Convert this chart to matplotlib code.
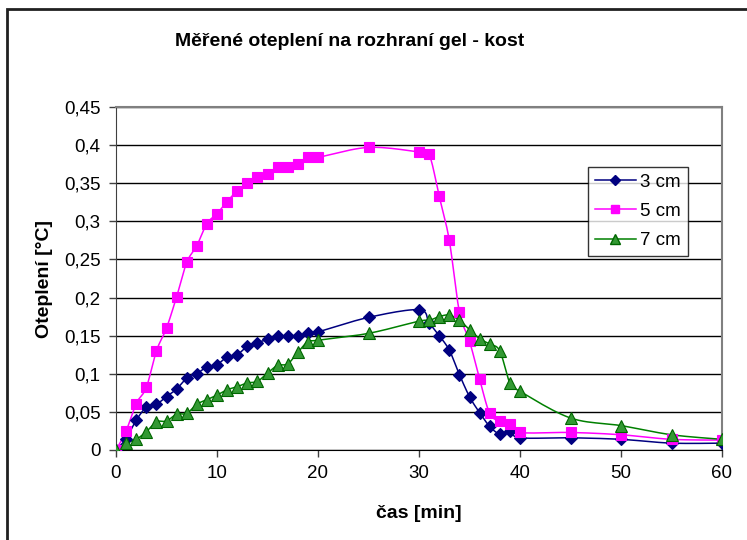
import numpy as np
import matplotlib.pyplot as plt
from matplotlib.patches import Rectangle
from matplotlib.ticker import FuncFormatter, MultipleLocator

plt.rcParams['font.family'] = ['Liberation Sans', 'DejaVu Sans']

# time [min]
t = [0, 1, 2, 3, 4, 5, 6, 7, 8, 9, 10, 11, 12, 13, 14, 15, 16, 17, 18, 19, 20,
     25, 30, 31, 32, 33, 34, 35, 36, 37, 38, 39, 40, 45, 50, 55, 60]

# temperature rise [°C] at the gel - bone interface
dt_3cm = [0, 0.015, 0.039, 0.056, 0.060, 0.070, 0.080, 0.094, 0.100, 0.109, 0.112,
          0.122, 0.125, 0.136, 0.141, 0.145, 0.149, 0.150, 0.150, 0.153, 0.155,
          0.174, 0.184, 0.167, 0.150, 0.131, 0.099, 0.070, 0.049, 0.031, 0.021,
          0.025, 0.016, 0.016, 0.014, 0.009, 0.009]
dt_5cm = [0, 0.025, 0.061, 0.082, 0.130, 0.160, 0.201, 0.246, 0.268, 0.297, 0.310,
          0.326, 0.340, 0.350, 0.358, 0.362, 0.371, 0.371, 0.375, 0.384, 0.384,
          0.397, 0.391, 0.388, 0.333, 0.275, 0.181, 0.143, 0.093, 0.048, 0.038,
          0.034, 0.023, 0.023, 0.020, 0.014, 0.013]
dt_7cm = [0, 0.009, 0.014, 0.024, 0.037, 0.038, 0.047, 0.048, 0.060, 0.066, 0.072,
          0.079, 0.083, 0.088, 0.090, 0.101, 0.111, 0.113, 0.128, 0.142, 0.144,
          0.153, 0.169, 0.170, 0.175, 0.177, 0.170, 0.158, 0.146, 0.139, 0.130,
          0.088, 0.077, 0.042, 0.032, 0.020, 0.014]

labels = ['3 cm', '5 cm', '7 cm']


def smooth(x, y, n=12):
    # Catmull-Rom through the points, like the spreadsheet's smoothed lines
    p = np.column_stack([x, y]).astype(float)
    p = np.vstack([p[0], p, p[-1]])
    out = []
    s = np.linspace(0, 1, n, endpoint=False)[:, None]
    for i in range(1, len(p) - 2):
        p0, p1, p2, p3 = p[i - 1], p[i], p[i + 1], p[i + 2]
        c = 0.5 * ((2 * p1) + (-p0 + p2) * s + (2 * p0 - 5 * p1 + 4 * p2 - p3) * s ** 2
                   + (-p0 + 3 * p1 - 3 * p2 + p3) * s ** 3)
        out.append(c)
    out.append(p[-2][None, :])
    out = np.vstack(out)
    return out[:, 0], out[:, 1]


fig = plt.figure(figsize=(7.47, 5.4), dpi=100)
W, H = 747, 540
ax = fig.add_axes([116 / W, (H - 450) / H, (722 - 116) / W, (450 - 107) / H])

styles = [
    dict(color='#000080', marker='D', mfc='#000080', mec='#000080', ms=6.5),
    dict(color='#FF00FF', marker='s', mfc='#FF00FF', mec='#FF00FF', ms=7),
    dict(color='#008000', marker='^', mfc='#339933', mec='#006600', ms=8),
]

for series, lab, st in zip([dt_3cm, dt_5cm, dt_7cm], labels, styles):
    sx, sy = smooth(t, series)
    ax.plot(sx, sy, color=st['color'], lw=1.1, zorder=3)
    ax.plot(t, series, ls='none', marker=st['marker'], mfc=st['mfc'],
            mec=st['mec'], ms=st['ms'], mew=0.8, zorder=4)
    # proxy handle for the legend
    ax.plot([], [], color=st['color'], lw=1.1, marker=st['marker'], mfc=st['mfc'],
            mec=st['mec'], ms=st['ms'] - 1, label=lab)

ax.set_xlim(0, 60)
ax.set_ylim(0, 0.45)
ax.xaxis.set_major_locator(MultipleLocator(10))
ax.yaxis.set_major_locator(MultipleLocator(0.05))
ax.yaxis.set_major_formatter(FuncFormatter(lambda v, p: ('%g' % round(v, 2)).replace('.', ',')))
ax.grid(axis='y', color='black', lw=1, zorder=0)
ax.set_axisbelow(True)

ax.tick_params(direction='out', length=5, width=1, labelsize=13.5, color='#404040', pad=6)
for side in ['top', 'right']:
    ax.spines[side].set_color('#808080')
    ax.spines[side].set_linewidth(1.5)
ax.spines['left'].set_color('#404040')
ax.spines['bottom'].set_color('black')

ax.set_xlabel('čas [min]', fontsize=14, fontweight='bold', labelpad=16)
ax.set_ylabel('Oteplení [°C]', fontsize=14, fontweight='bold', labelpad=8)

fig.text(350 / W, 1 - 42 / H, 'Měřené oteplení na rozhraní gel - kost',
         ha='center', va='center', fontsize=14, fontweight='bold')

leg = ax.legend(loc='upper left', bbox_to_anchor=((588 - 116) / 606, (450 - 167) / 343),
                fontsize=13.5, frameon=True, fancybox=False, edgecolor='black',
                borderpad=0.35, handlelength=2.2, handletextpad=0.25, labelspacing=0.65,
                borderaxespad=0)
leg.get_frame().set_linewidth(1)

# outer chart frame
fig.patches.append(Rectangle((7 / W, -0.1), 2, 1 - 9 / H + 0.1, transform=fig.transFigure,
                             fill=False, ec='#202020', lw=2))

fig.savefig('out.png', dpi=100)
